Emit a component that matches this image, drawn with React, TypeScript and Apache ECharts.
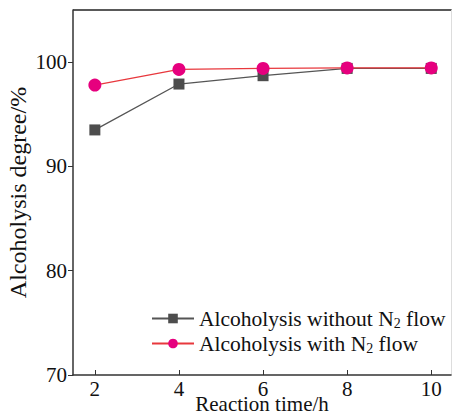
import React, { useEffect, useRef } from "react";
import * as echarts from "echarts";

const times = [2, 4, 6, 8, 10];
const withoutN2 = [93.5, 97.9, 98.7, 99.4, 99.4];
const withN2 = [97.8, 99.3, 99.4, 99.45, 99.45];
const yTicks = [70, 80, 90, 100];
const xTicks = [2, 4, 6, 8, 10];

const FONT = "'Liberation Serif', 'Times New Roman', serif";

export default function App() {
  const ref = useRef<HTMLDivElement>(null);
  useEffect(() => {
    if (!ref.current) return;
    const chart = echarts.init(ref.current, undefined, { renderer: "svg" });
    const legendRich = {
      t: { fontFamily: FONT, fontSize: 21.5, color: "#111", lineHeight: 24 },
      s: { fontFamily: FONT, fontSize: 14, color: "#111", lineHeight: 16, padding: [9, 0, 0, 0] },
    };
    chart.setOption({
      animation: false,
      backgroundColor: "#fff",
      grid: { left: 73, right: 1, top: 10, bottom: 40, outerBoundsMode: "none", containLabel: false },
      legend: {
        orient: "vertical",
        left: 146,
        top: 302,
        itemWidth: 42,
        itemHeight: 12,
        itemGap: 2,
        textStyle: { rich: legendRich, fontFamily: FONT, fontSize: 21.5, color: "#111" },
        formatter: (name: string) =>
          name === "without"
            ? "{t|Alcoholysis without N}{s|2}{t| flow}"
            : "{t|Alcoholysis with N}{s|2}{t| flow}",
        data: ["without", "with"],
      },
      xAxis: {
        type: "value",
        min: 1.48,
        max: 10.47,
        interval: 2,
        name: "Reaction time/h",
        nameLocation: "middle",
        nameGap: 21,
        nameMoveOverlap: false,
        nameTextStyle: { fontFamily: FONT, fontSize: 21, color: "#111", lineHeight: 16 },
        axisLine: { lineStyle: { color: "#333", width: 1.5 } },
        axisTick: {
          inside: true,
          length: 5,
          lineStyle: { color: "#333", width: 1 },
          customValues: xTicks,
        },
        axisLabel: {
          fontFamily: FONT,
          fontSize: 21,
          lineHeight: 18,
          color: "#111",
          margin: 5,
          customValues: xTicks,
          formatter: (v: number) => String(v),
        },
        splitLine: { show: false },
      },
      yAxis: [
        {
          type: "value",
          min: 70,
          max: 105,
          interval: 10,
          name: "Alcoholysis degree/%",
          nameLocation: "middle",
          nameGap: 43,
          nameMoveOverlap: false,
          nameTextStyle: { fontFamily: FONT, fontSize: 24, color: "#111" },
          axisLine: { show: true, lineStyle: { color: "#333", width: 1.5 } },
          axisTick: { show: true, inside: false, length: 5, lineStyle: { color: "#333" }, customValues: yTicks },
          axisLabel: {
            fontFamily: FONT,
            fontSize: 21,
            color: "#111",
            margin: 6,
            customValues: yTicks,
          },
          splitLine: { show: false },
        },
        {
          type: "value",
          min: 70,
          max: 105,
          position: "right",
          axisLine: { show: true, lineStyle: { color: "#ddd", width: 1 } },
          axisTick: { show: false },
          axisLabel: { show: false },
          splitLine: { show: false },
        },
      ],
      graphic: [
        {
          type: "line",
          shape: { x1: 73, y1: 10, x2: 452, y2: 10 },
          style: { stroke: "#222", lineWidth: 1.5 },
        },
      ],
      series: [
        {
          name: "without",
          type: "line",
          data: times.map((t, i) => [t, withoutN2[i]]),
          symbol: "rect",
          symbolSize: 11,
          itemStyle: { color: "#4d4d4d" },
          lineStyle: { color: "#555", width: 1.3 },
          z: 2,
        },
        {
          name: "with",
          type: "line",
          data: times.map((t, i) => [t, withN2[i]]),
          symbol: "circle",
          symbolSize: 13,
          itemStyle: { color: "#e6007e" },
          lineStyle: { color: "#e8383d", width: 1.3 },
          z: 3,
        },
      ],
    });
    return () => chart.dispose();
  }, []);
  return <div ref={ref} style={{ width: 452, height: 415, position: "absolute", left: 0, top: 0 }} />;
}
